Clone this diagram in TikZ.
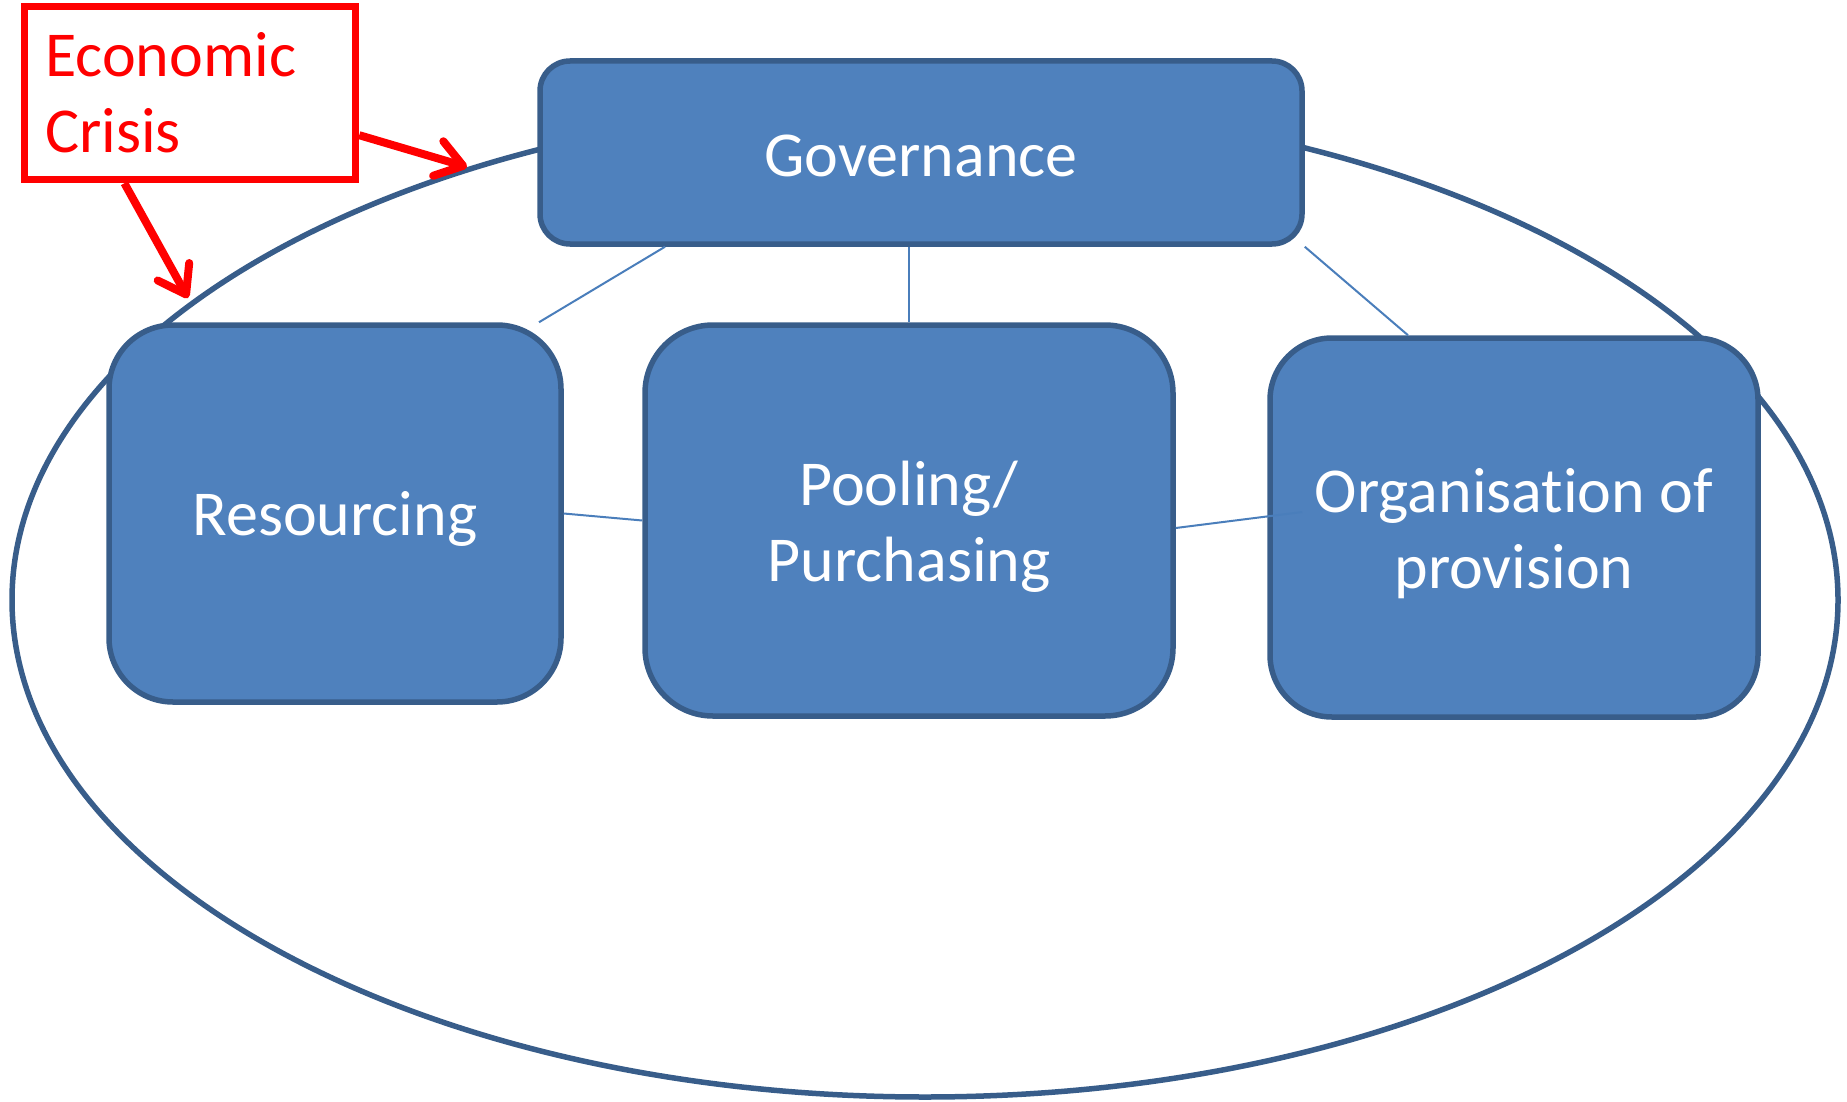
\documentclass[tikz,border=0pt]{standalone}
\usepackage{fontspec}
\setmainfont{Carlito}[Ligatures={NoCommon}]
\usetikzlibrary{arrows.meta,calc,shapes.geometric}
\definecolor{boxfill}{HTML}{4F81BD}
\definecolor{boxline}{HTML}{385D8A}
\definecolor{thinline}{HTML}{4A7EBB}
\definecolor{crisisred}{HTML}{FF0000}
\tikzset{
  blockbox/.style={draw=boxline, fill=boxfill, line width=5.5pt, inner sep=0pt},
  boxtext/.style={text=white, align=center, inner sep=0pt,
    font=\fontsize{64pt}{76pt}\selectfont},
  linkline/.style={draw=thinline, line width=2pt},
  crisisarrow/.style={draw=crisisred, line width=8pt,
    -{Straight Barb[length=26pt,width=36pt,round]}},
}
\begin{document}
\begin{tikzpicture}[x=1pt,y=-1pt]
\useasboundingbox (0,0) rectangle (1847,1102);
\node[draw=boxline, line width=5.5pt, ellipse, inner sep=0pt,
  minimum width=1826pt, minimum height=994pt] (ell) at (925,600) {};
\node[blockbox, rounded corners=30pt, minimum width=762pt, minimum height=183pt]
  (gov) at (921,152.5) {};
\node[blockbox, rounded corners=64pt, minimum width=452pt, minimum height=377pt]
  (res) at (335,513.5) {};
\node[blockbox, rounded corners=68pt, minimum width=528pt, minimum height=391pt]
  (pool) at (909,520.5) {};
\node[blockbox, rounded corners=62pt, minimum width=488pt, minimum height=379pt]
  (org) at (1514,527.5) {};
\node[boxtext] (govt) at ($(gov.center)+(0,3)$) {Governance};
\node[boxtext] (rest) at ($(res.center)+(0,5)$) {Resourcing};
\node[boxtext] (poolt) at ($(pool.center)+(0,6)$) {Pooling/\\Purchasing};
\node[boxtext] (orgt) at ($(org.center)+(0,6)$) {Organisation of\\provision};
% thin connectors
\draw[linkline] ($(gov.south)+(-256,0)$) -- ($(res.north)+(204,0)$);
\draw[linkline] (gov.south -| pool.north) -- (pool.north);
\draw[linkline] (gov.south east) -- ($(org.north)+(-106,0)$);
\draw[linkline] (res.east) -- (pool.west);
\coordinate (orgin) at ($(org.west)+(35,-15.5)$);
\draw[linkline] ($(pool.east)+(0,7.5)$) -- (orgin);
% economic crisis
\node[draw=crisisred, line width=7.5pt, inner sep=0pt, minimum width=331pt,
  minimum height=173pt] (ec) at (190,93) {};
\node[anchor=north west, inner sep=0pt, text=crisisred, align=left,
  font=\fontsize{64pt}{76pt}\selectfont] (ectext) at (45,32) {Economic\\Crisis};
\coordinate (tip1) at (467,167);
\coordinate (tip2) at (188,298);
\draw[crisisarrow] (ec.-14.6) -- (tip1);
\draw[crisisarrow] (ec.-126.5) -- (tip2);
\end{tikzpicture}
\end{document}
